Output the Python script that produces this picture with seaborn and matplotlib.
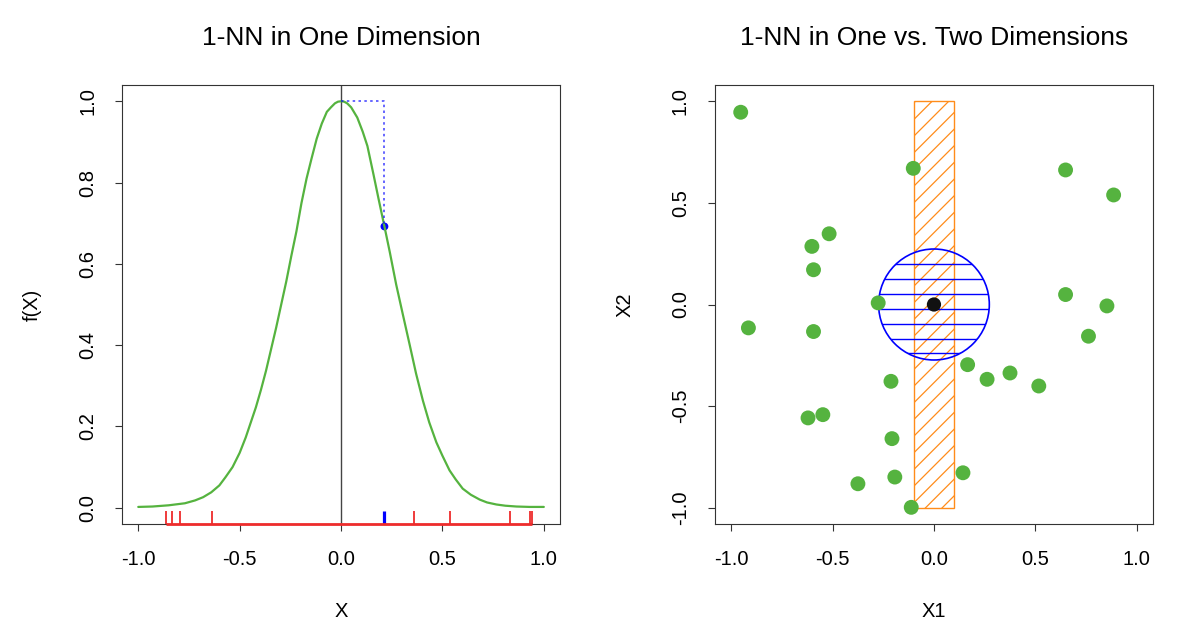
import numpy as np
import pandas as pd
import seaborn as sns
import matplotlib.pyplot as plt
from matplotlib.patches import Rectangle, Circle

# left panel: f(X)
curve_x = [-1.00, -0.93, -0.85, -0.77, -0.72, -0.68, -0.64, -0.60, -0.57, -0.535,
           -0.50, -0.47, -0.445, -0.42, -0.395, -0.37, -0.345, -0.32, -0.295, -0.27,
           -0.245, -0.22, -0.195, -0.17, -0.145, -0.12, -0.095, -0.07, -0.05, -0.03,
           -0.015, 0.0, 0.015, 0.03, 0.05, 0.08, 0.107, 0.13, 0.16, 0.185,
           0.214, 0.24, 0.272, 0.305, 0.338, 0.37, 0.404, 0.435, 0.47, 0.50,
           0.535, 0.565, 0.60, 0.64, 0.684, 0.72, 0.766, 0.81, 0.865, 0.93, 1.00]
curve_y = [0.002, 0.003, 0.006, 0.011, 0.018, 0.026, 0.038, 0.055, 0.075, 0.100,
           0.135, 0.173, 0.210, 0.247, 0.290, 0.337, 0.390, 0.443, 0.500, 0.557,
           0.620, 0.680, 0.750, 0.810, 0.860, 0.908, 0.945, 0.974, 0.985, 0.995,
           0.999, 1.000, 0.999, 0.995, 0.985, 0.960, 0.925, 0.890, 0.820, 0.760,
           0.692, 0.630, 0.549, 0.475, 0.402, 0.330, 0.263, 0.210, 0.161, 0.128,
           0.092, 0.070, 0.047, 0.032, 0.020, 0.013, 0.008, 0.005, 0.003, 0.002, 0.002]
train_x = [-0.865, -0.834, -0.794, -0.634, 0.362, 0.535, 0.832, 0.931, 0.944]
nn_x = 0.214
nn_fx = 0.692
x0 = 0.0

# right panel: training points
pts_x1 = [-0.953, -0.102, 0.649, 0.886, -0.517, -0.602, -0.594, -0.275, 0.649, 0.853,
          -0.915, -0.594, 0.762, 0.166, 0.262, 0.375, 0.517, -0.212, -0.548, -0.621,
          -0.207, -0.193, 0.143, -0.375, -0.112]
pts_x2 = [0.946, 0.670, 0.662, 0.539, 0.348, 0.286, 0.171, 0.008, 0.049, -0.007,
          -0.115, -0.133, -0.156, -0.296, -0.368, -0.337, -0.401, -0.378, -0.542, -0.558,
          -0.660, -0.849, -0.828, -0.882, -0.998]
band_half = 0.1
nn_radius = 0.273

green = "#55B33F"
red = "#EE2C2C"
orange = "#FF8C1A"
dark = "#333333"

sns.set_theme(style="ticks")
plt.rcParams['font.family'] = ['Liberation Sans', 'DejaVu Sans']
plt.rcParams.update({
    'axes.unicode_minus': False,
    'text.color': 'black', 'axes.labelcolor': 'black',
    'axes.edgecolor': dark, 'axes.linewidth': 0.8,
    'xtick.color': dark, 'ytick.color': dark,
    'xtick.labelcolor': 'black', 'ytick.labelcolor': 'black',
    'xtick.major.size': 5, 'ytick.major.size': 5,
    'xtick.major.width': 0.8, 'ytick.major.width': 0.8,
    'xtick.labelsize': 14.5, 'ytick.labelsize': 14.5,
    'hatch.linewidth': 0.9,
})

fig = plt.figure(figsize=(12, 6.33), dpi=100)
ax1 = fig.add_axes([0.1017, 0.1722, 0.365, 0.6935])
ax2 = fig.add_axes([0.5958, 0.1722, 0.365, 0.6935])

# ---- 1-NN in one dimension
df = pd.DataFrame({'x': curve_x, 'fx': curve_y})
ax1.axvline(x0, color='#444444', lw=1)
sns.lineplot(data=df, x='x', y='fx', color=green, linewidth=1.6, ax=ax1)
ax1.plot([x0, nn_x, nn_x], [1.0, 1.0, nn_fx], color='blue', alpha=0.7,
         lw=1.2, linestyle=(0, (1.5, 2)))
sns.scatterplot(x=[nn_x], y=[nn_fx], color='blue', s=32, edgecolor='none', ax=ax1)
sns.rugplot(x=train_x, height=0.03, color=red, linewidth=1.3, ax=ax1)
sns.rugplot(x=[nn_x], height=0.03, color='blue', linewidth=2.3, ax=ax1)
ax1.plot([min(train_x), max(train_x)], [-0.04, -0.04], color=red, lw=2,
         clip_on=False, solid_capstyle='butt', zorder=3)
ax1.set_xlim(-1.08, 1.08)
ax1.set_ylim(-0.04, 1.04)
ax1.set_xticks([-1.0, -0.5, 0.0, 0.5, 1.0])
ax1.set_yticks([0.0, 0.2, 0.4, 0.6, 0.8, 1.0])
ax1.set_xlabel('X')
ax1.set_ylabel('f(X)')

# ---- 1-NN in one vs two dimensions
ax2.add_patch(Rectangle((-band_half, -1), 2 * band_half, 2, fill=False,
                        edgecolor=orange, hatch='//', lw=1))
circ = Circle((0, 0), nn_radius, fill=False, edgecolor='blue', lw=1.2)
ax2.add_patch(circ)
hatch_y = np.arange(-0.241, 0.21, 0.073)
hl = ax2.hlines(hatch_y, -nn_radius, nn_radius, color='blue', lw=1)
hl.set_clip_path(circ)
sns.scatterplot(x=pts_x1, y=pts_x2, color=green, s=115, edgecolor='none', ax=ax2, zorder=3)
sns.scatterplot(x=[0], y=[0], color='#111111', s=105, edgecolor='none', ax=ax2, zorder=4)
ax2.set_xlim(-1.08, 1.08)
ax2.set_ylim(-1.08, 1.08)
ax2.set_xticks([-1.0, -0.5, 0.0, 0.5, 1.0])
ax2.set_yticks([-1.0, -0.5, 0.0, 0.5, 1.0])
ax2.set_xlabel('X1')
ax2.set_ylabel('X2')

titles = ['1-NN in One Dimension', '1-NN in One vs. Two Dimensions']
for ax, t in zip([ax1, ax2], titles):
    ax.text(0.5, 1 + 47 / 439, t, transform=ax.transAxes, ha='center',
            va='center', fontsize=19)
    for s in ax.spines.values():
        s.set_visible(True)
    ax.tick_params(axis='x', pad=14)
    ax.tick_params(axis='y', pad=13)
    for lab in ax.get_yticklabels():
        lab.set_rotation(90)
        lab.set_va('center')
    ax.xaxis.label.set_fontsize(14.5)
    ax.yaxis.label.set_fontsize(14.5)
    ax.xaxis.set_label_coords(0.5, -88 / 439)
    ax.xaxis.label.set_va('center')
    ax.yaxis.set_label_coords(-90 / 438, 0.5)
    ax.yaxis.label.set_va('center')

fig.savefig('out.png', dpi=100, facecolor='white')
